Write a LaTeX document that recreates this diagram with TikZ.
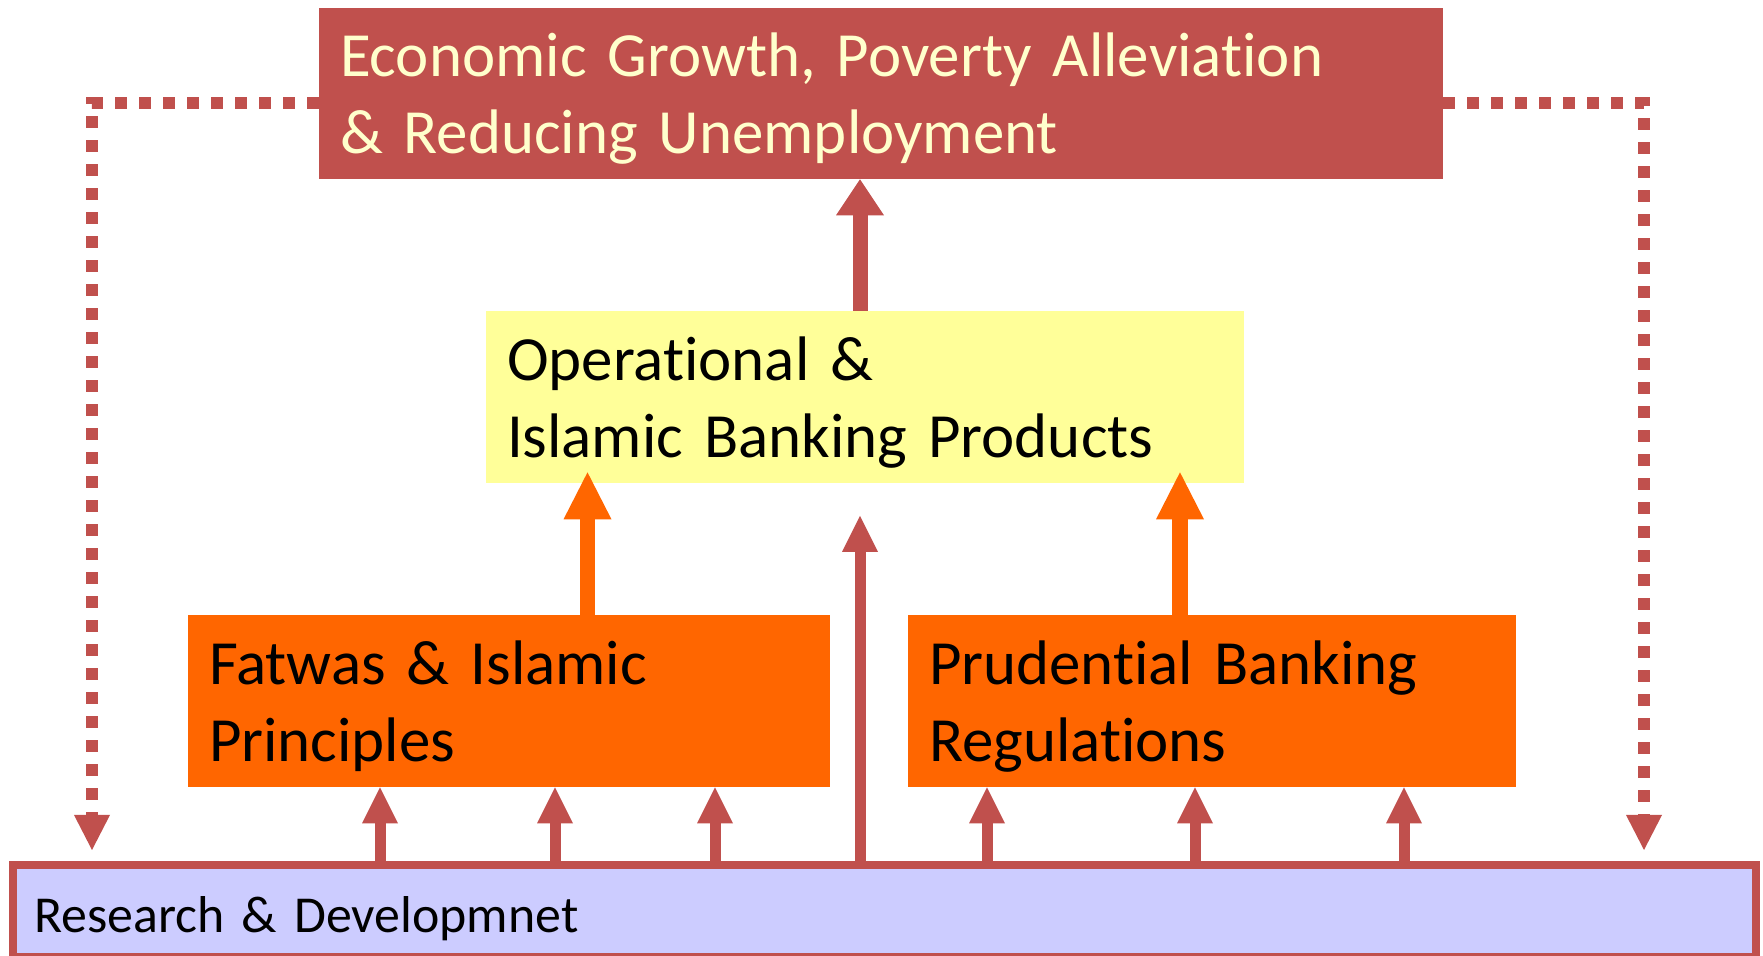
\documentclass[tikz,border=0pt]{standalone}
\usepackage{fontspec}
\setmainfont[Ligatures={NoCommon,NoContextual}]{Carlito}
\usepackage{tikz}
\usetikzlibrary{arrows.meta}

\definecolor{brick}{HTML}{C0504D}
\definecolor{cream}{HTML}{FFFFCC}
\definecolor{lemon}{HTML}{FFFF99}
\definecolor{tangerine}{HTML}{FF6600}
\definecolor{lavender}{HTML}{CCCCFF}

\newcommand\bigboxfont{\fontsize{35.8}{43.8}\selectfont\spaceskip=0.155em\relax}
\newcommand\rndfont{\fontsize{29.5}{35.4}\selectfont\spaceskip=0.155em\relax}

\begin{document}
\frenchspacing
\begin{tikzpicture}[
    textbox/.style={inner xsep=0.42cm, inner ysep=0.05cm, align=left, font=\bigboxfont},
    goalbox/.style={textbox, fill=brick, text=cream, minimum height=3.42cm},
    prodbox/.style={textbox, fill=lemon, minimum height=3.44cm},
    rulebox/.style={textbox, fill=tangerine, minimum height=3.44cm},
    rndbox/.style={textbox, draw=brick, line width=0.16cm, fill=lavender,
        minimum height=1.84cm, text height=1.0cm, text depth=0.12cm, font=\rndfont},
    rdarrow/.style={brick, line width=0.22cm,
        -{Triangle[width=0.72cm,length=0.72cm,line width=0pt]}},
    mainarrow/.style={brick, line width=0.30cm,
        -{Triangle[width=0.96cm,length=0.72cm,line width=0pt]}},
    orangearrow/.style={tangerine, line width=0.31cm, shorten >=-0.22cm,
        -{Triangle[width=0.96cm,length=0.94cm,line width=0pt]}},
    dotarrow/.style={brick, line width=0.23cm, dash pattern=on 0.24cm off 0.24cm,
        shorten >=0.22cm, -{Triangle[width=0.72cm,length=0.70cm,line width=0pt]}}
]
    \useasboundingbox (0,0) rectangle (35.26,19.12);

    % boxes
    \node[goalbox, text width=21.64cm] (goal) at (17.62,17.25)
        {\strut Economic Growth, Poverty Alleviation\\ \& Reducing Unemployment};
    \node[prodbox, text width=14.32cm] (prod) at (17.30,11.18)
        {\strut Operational \&\\ Islamic Banking Products};
    \node[rulebox, text width=11.99cm] (fatwa) at (10.175,5.10)
        {\strut Fatwas \& Islamic\\ Principles};
    \node[rulebox, text width=11.32cm] (prud) at (24.24,5.10)
        {\strut Prudential Banking\\ Regulations};
    \node[rndbox, text width=34.02cm] (rnd) at (17.69,0.90) {Research \& Developmnet};

    \coordinate (spine) at (17.20,8.80);
    \coordinate (lbend) at (1.84,17.06);
    \coordinate (rbend) at (32.88,17.06);

    % research feeds the rules
    \foreach \x in {7.60,11.10,14.30}
        \draw[rdarrow] (\x,0 |- rnd.north) -- (\x,0 |- fatwa.south);
    \foreach \x in {19.74,23.90,28.08}
        \draw[rdarrow] (\x,0 |- rnd.north) -- (\x,0 |- prud.south);
    \draw[rdarrow] (spine |- rnd.north) -- (spine);

    % rules feed the products
    \draw[orangearrow] (11.75,0 |- fatwa.north) -- (11.75,0 |- prod.south);
    \draw[orangearrow] (23.60,0 |- prud.north) -- (23.60,0 |- prod.south);

    \draw[mainarrow] (spine |- prod.north) -- (spine |- goal.south);

    % back to research
    \draw[dotarrow] (goal.west |- lbend) -- (lbend) -- (lbend |- rnd.north);
    \draw[dotarrow] (goal.east |- rbend) -- (rbend) -- (rbend |- rnd.north);
    %\draw[brick, very thick] (0,0) rectangle (35.26,19.12);
\end{tikzpicture}
\end{document}
